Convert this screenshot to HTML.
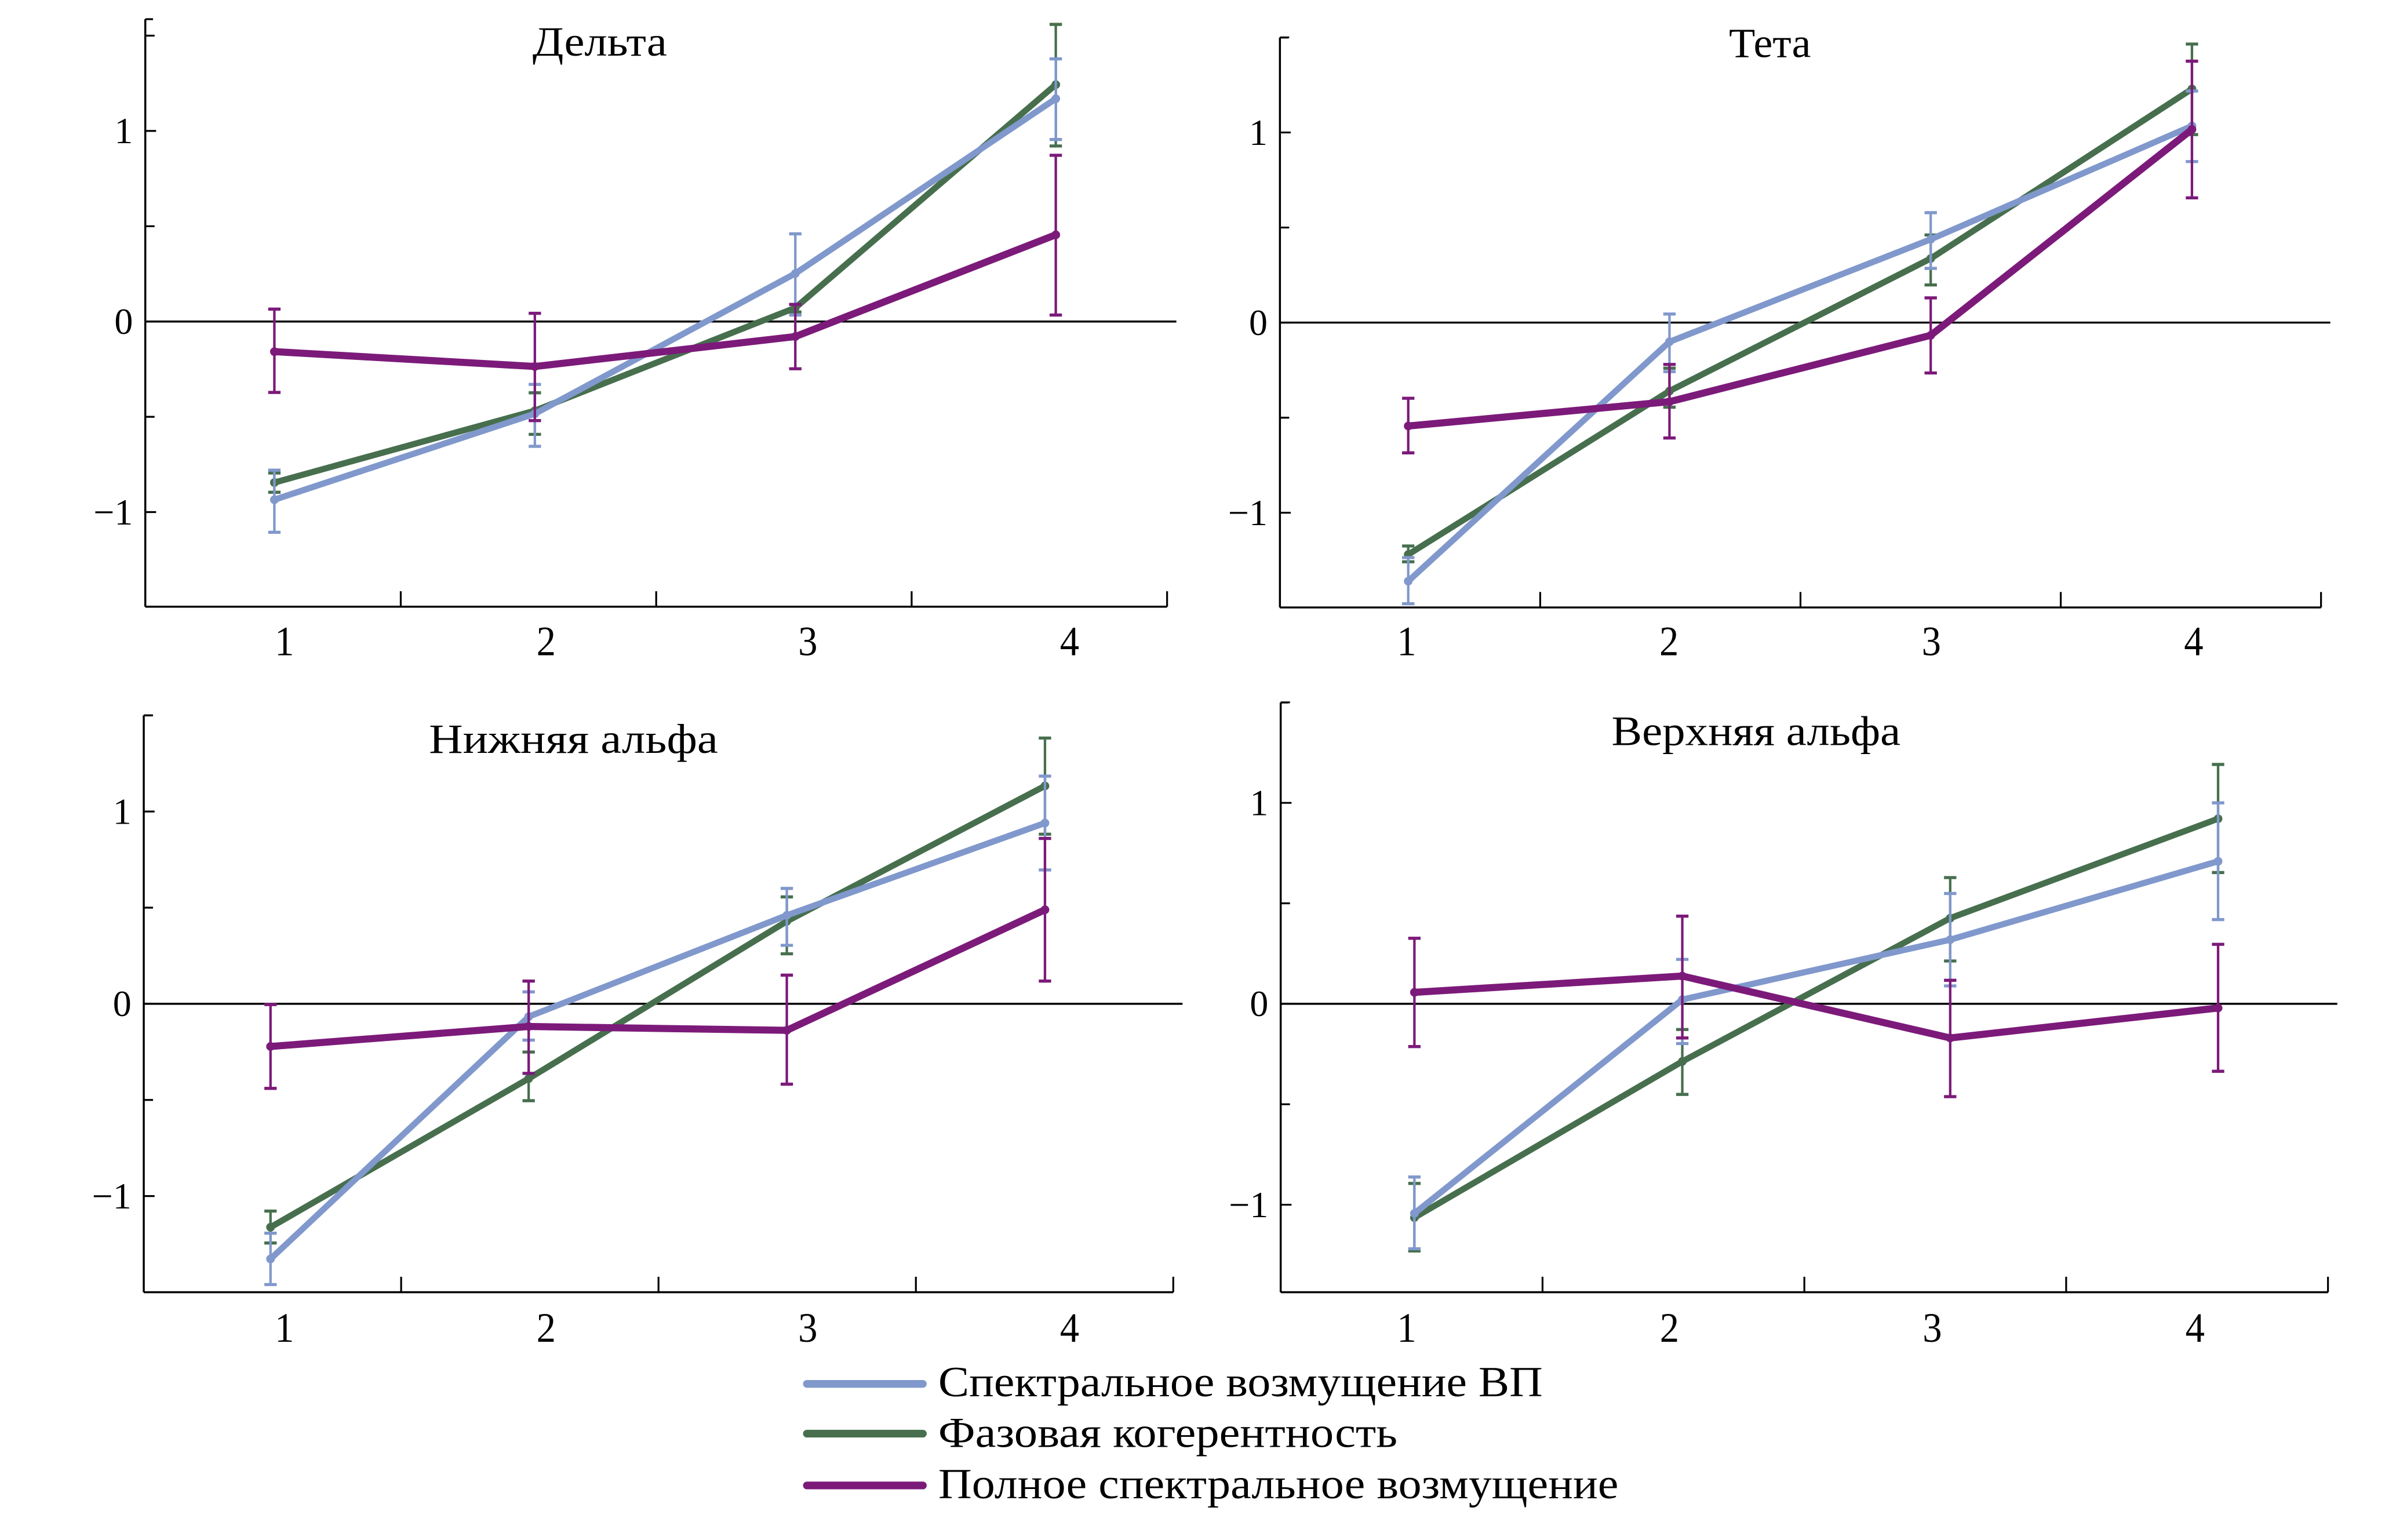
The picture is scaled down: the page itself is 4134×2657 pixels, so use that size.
<!DOCTYPE html>
<html><head><meta charset="utf-8">
<style>
html,body{margin:0;padding:0;background:#fff;}
svg{display:block;}
text{font-family:"Liberation Serif",serif;fill:#000;}
</style></head>
<body>
<svg id="chart" width="4134" height="2657" viewBox="0 0 1550 996.3" preserveAspectRatio="none" xmlns="http://www.w3.org/2000/svg">
<rect x="0" y="0" width="1550" height="996.3" fill="#fff"/>
<g id="legend">
  <g>
    <line x1="522" y1="895.3" x2="597" y2="895.3" stroke="#8098cc" stroke-width="5" stroke-linecap="round"/>
    <text x="607" y="903.3" font-size="28" textLength="391" lengthAdjust="spacingAndGlyphs">Спектральное возмущение ВП</text>
  </g>
  <g>
    <line x1="522" y1="927.5" x2="597" y2="927.5" stroke="#476f4e" stroke-width="5" stroke-linecap="round"/>
    <text x="607" y="936.2" font-size="28" textLength="297" lengthAdjust="spacingAndGlyphs">Фазовая когерентность</text>
  </g>
  <g>
    <line x1="522" y1="961" x2="597" y2="961" stroke="#7c1a7a" stroke-width="5" stroke-linecap="round"/>
    <text x="607" y="969.3" font-size="28" textLength="440" lengthAdjust="spacingAndGlyphs">Полное спектральное возмущение</text>
  </g>
</g>
</svg>
<script>
// ---- data ----
const categories = ["1","2","3","4"];
const yTickValues = [-1, 0, 1];
const yTickLabels = ["−1", "0", "1"];
const yMinorValues = [-0.5, 0.5, 1.5];

// Дельта
const deltaSpectral   = [-0.935, -0.484, 0.252, 1.169];
const deltaSpectralHi = [-0.78, -0.33, 0.46, 1.378];
const deltaSpectralLo = [-1.106, -0.655, 0.034, 0.955];
const deltaPhase      = [-0.845, -0.468, 0.072, 1.243];
const deltaPhaseHi    = [-0.795, -0.374, 0.09, 1.559];
const deltaPhaseLo    = [-0.896, -0.592, 0.05, 0.921];
const deltaTotal      = [-0.158, -0.236, -0.079, 0.455];
const deltaTotalHi    = [0.065, 0.043, 0.09, 0.872];
const deltaTotalLo    = [-0.372, -0.52, -0.248, 0.034];

// Тета
const thetaSpectral   = [-1.36, -0.101, 0.438, 1.034];
const thetaSpectralHi = [-1.236, 0.045, 0.578, 1.218];
const thetaSpectralLo = [-1.479, -0.258, 0.285, 0.847];
const thetaPhase      = [-1.22, -0.36, 0.337, 1.229];
const thetaPhaseHi    = [-1.175, -0.24, 0.461, 1.465];
const thetaPhaseLo    = [-1.258, -0.445, 0.198, 0.989];
const thetaTotal      = [-0.544, -0.416, -0.067, 1.016];
const thetaTotalHi    = [-0.398, -0.22, 0.13, 1.375];
const thetaTotalLo    = [-0.685, -0.607, -0.265, 0.656];

// Нижняя альфа
const lowAlphaSpectral   = [-1.327, -0.067, 0.46, 0.94];
const lowAlphaSpectralHi = [-1.193, 0.062, 0.6, 1.184];
const lowAlphaSpectralLo = [-1.46, -0.189, 0.304, 0.696];
const lowAlphaPhase      = [-1.162, -0.389, 0.429, 1.133];
const lowAlphaPhaseHi    = [-1.078, -0.251, 0.556, 1.382];
const lowAlphaPhaseLo    = [-1.244, -0.504, 0.26, 0.882];
const lowAlphaTotal      = [-0.222, -0.118, -0.138, 0.489];
const lowAlphaTotalHi    = [-0.004, 0.118, 0.149, 0.86];
const lowAlphaTotalLo    = [-0.44, -0.362, -0.418, 0.118];

// Верхняя альфа
const highAlphaSpectral   = [-1.043, 0.021, 0.319, 0.709];
const highAlphaSpectralHi = [-0.862, 0.221, 0.549, 1.0];
const highAlphaSpectralLo = [-1.219, -0.198, 0.089, 0.419];
const highAlphaPhase      = [-1.064, -0.287, 0.426, 0.921];
const highAlphaPhaseHi    = [-0.894, -0.128, 0.628, 1.191];
const highAlphaPhaseLo    = [-1.23, -0.451, 0.213, 0.653];
const highAlphaTotal      = [0.057, 0.138, -0.17, -0.021];
const highAlphaTotalHi    = [0.326, 0.436, 0.117, 0.296];
const highAlphaTotalLo    = [-0.213, -0.17, -0.462, -0.336];

// ---- layout (not data) ----
const NS = "http://www.w3.org/2000/svg";
const svg = document.getElementById("chart");
const COLORS = {spectral:"#8098cc", phase:"#476f4e", total:"#7c1a7a"};

const panels = [
  {key:"delta", title:"Дельта", titleW:87, axisX:94, right:755, top:12.4, bottom:392.5, zero:208, unit:123.3,
   p0:177.5, dp:168.5, l0:184, dl:169.3, titleX:388, titleY:36, labelY:424,
   spectral:[deltaSpectral,deltaSpectralLo,deltaSpectralHi], phase:[deltaPhase,deltaPhaseLo,deltaPhaseHi], total:[deltaTotal,deltaTotalLo,deltaTotalHi]},
  {key:"theta", title:"Тета", titleW:53, axisX:828, right:1501.5, top:24.3, bottom:393, zero:208.7, unit:123,
   p0:911, dp:169, l0:910, dl:169.7, titleX:1145, titleY:37, labelY:424,
   spectral:[thetaSpectral,thetaSpectralLo,thetaSpectralHi], phase:[thetaPhase,thetaPhaseLo,thetaPhaseHi], total:[thetaTotal,thetaTotalLo,thetaTotalHi]},
  {key:"low-alpha", title:"Нижняя альфа", titleW:187, axisX:93, right:759, top:462.8, bottom:836, zero:649.4, unit:124.4,
   p0:175, dp:167, l0:184, dl:169.3, titleX:371, titleY:487, labelY:868,
   spectral:[lowAlphaSpectral,lowAlphaSpectralLo,lowAlphaSpectralHi], phase:[lowAlphaPhase,lowAlphaPhaseLo,lowAlphaPhaseHi], total:[lowAlphaTotal,lowAlphaTotalLo,lowAlphaTotalHi]},
  {key:"high-alpha", title:"Верхняя альфа", titleW:187, axisX:828.5, right:1506, top:454.5, bottom:836, zero:649.4, unit:130,
   p0:915, dp:173.3, l0:910, dl:170, titleX:1136, titleY:482, labelY:868,
   spectral:[highAlphaSpectral,highAlphaSpectralLo,highAlphaSpectralHi], phase:[highAlphaPhase,highAlphaPhaseLo,highAlphaPhaseHi], total:[highAlphaTotal,highAlphaTotalLo,highAlphaTotalHi]}
];

function mk(tag, attrs, parent){
  const e = document.createElementNS(NS, tag);
  for (const k in attrs) e.setAttribute(k, attrs[k]);
  parent.appendChild(e);
  return e;
}

panels.forEach(p => {
  const xS = i => p.p0 + i * p.dp;
  const yS = v => p.zero - v * p.unit;
  const g = mk("g", {}, svg);
  
  

  const ya = mk("line", {x1:p.axisX, y1:p.top, x2:p.axisX, y2:p.bottom, stroke:"#000", "stroke-width":1.3}, g);
  
  
  const xa = mk("line", {x1:p.axisX, y1:p.bottom, x2:p.right, y2:p.bottom, stroke:"#000", "stroke-width":1.3}, g);
  
  
  const zl = mk("line", {x1:p.axisX, y1:yS(0), x2:p.right+6, y2:yS(0), stroke:"#000", "stroke-width":1.3}, g);
  
  

  yTickValues.forEach((v, i) => {
    mk("line", {x1:p.axisX, y1:yS(v), x2:p.axisX+7, y2:yS(v), stroke:"#000", "stroke-width":1.2}, g);
    const t = mk("text", {x:p.axisX-8, y:yS(v)+8, "font-size":24, "text-anchor":"end"}, g);
    t.textContent = yTickLabels[i];
    
    
  });
  yMinorValues.forEach(v => {
    if (yS(v) > p.top - 1) mk("line", {x1:p.axisX, y1:yS(v), x2:p.axisX+6, y2:yS(v), stroke:"#000", "stroke-width":1.2}, g);
  });
  mk("line", {x1:p.axisX, y1:p.top, x2:p.axisX+5, y2:p.top, stroke:"#000", "stroke-width":1.2}, g);

  const bstep = (p.right - p.axisX) / 4;
  for (let k = 1; k <= 4; k++) {
    const bx = p.axisX + k * bstep;
    mk("line", {x1:bx, y1:p.bottom, x2:bx, y2:p.bottom-10, stroke:"#000", "stroke-width":1.2}, g);
  }
  categories.forEach((c, i) => {
    const t = mk("text", {x:p.l0 + i*p.dl, y:p.labelY, "font-size":27, "text-anchor":"middle", textLength:12.5, lengthAdjust:"spacingAndGlyphs"}, g);
    t.textContent = c;
    
    
  });

  const tt = mk("text", {x:p.titleX, y:p.titleY, "font-size":27, "text-anchor":"middle", textLength:p.titleW, lengthAdjust:"spacingAndGlyphs"}, g);
  tt.textContent = p.title;
  
  

  ["phase","spectral","total"].forEach(s => {
    const [mean, lo, hi] = p[s];
    const col = COLORS[s];
    const sg = mk("g", {}, g);
    
    
    mean.forEach((v, i) => {
      const x = xS(i);
      const eb = mk("g", {stroke:col, "stroke-width":1.6}, sg);
      
      
      mk("line", {x1:x, y1:yS(lo[i]), x2:x, y2:yS(hi[i])}, eb);
      mk("line", {x1:x-4, y1:yS(lo[i]), x2:x+4, y2:yS(lo[i]), "stroke-width":2}, eb);
      mk("line", {x1:x-4, y1:yS(hi[i]), x2:x+4, y2:yS(hi[i]), "stroke-width":2}, eb);
    });
    const pts = mean.map((v, i) => xS(i) + "," + yS(v)).join(" ");
    const pl = mk("polyline", {points:pts, fill:"none", stroke:col, "stroke-width": s==="total"?4.6:4, "stroke-linejoin":"round"}, sg);
    
    
    mean.forEach((v, i) => {
      const d = mk("circle", {cx:xS(i), cy:yS(v), r:2.8, fill:col}, sg);
      
      
    });
  });
});
</script>
</body></html>
